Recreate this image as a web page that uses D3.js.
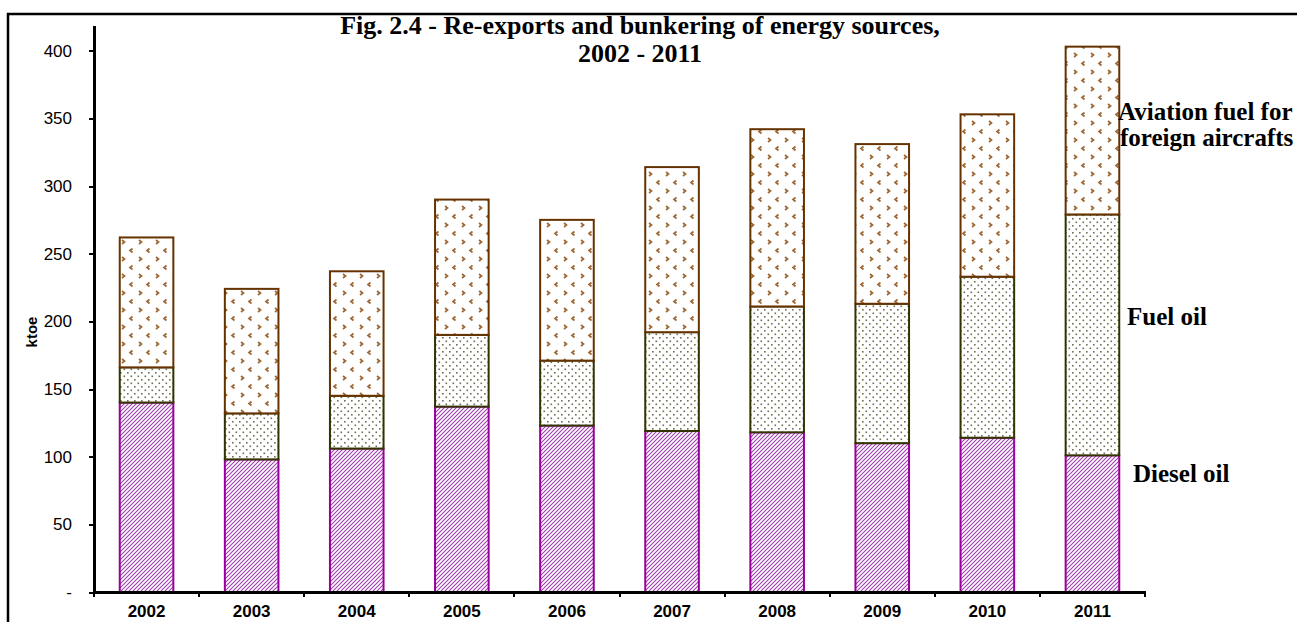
<!DOCTYPE html>
<html lang="en">
<meta charset="utf-8">
<head>
  <style>
    body { margin: 0; background: #fff; }
    .axis text { font: 17px "Liberation Sans", Arial, sans-serif; fill: #000; }
    .axis path, .axis line { stroke: #000; fill: none; shape-rendering: crispEdges; }
    .x.axis text { font-weight: bold; }
    .serif { font-family: "Liberation Serif", "Times New Roman", serif; font-weight: bold; font-size: 25px; }
  </style>
  <title></title>
</head>
<body>
<script src="https://d3js.org/d3.v7.min.js"></script>
<script>
  // data (ktoe)
  const years = ["2002", "2003", "2004", "2005", "2006", "2007", "2008", "2009", "2010", "2011"];
  const dieselOil = [140, 98, 106, 137, 123, 119, 118, 110, 114, 101];
  const fuelOil = [26, 34, 39, 53, 48, 73, 93, 103, 119, 178];
  const aviationFuel = [96, 92, 92, 100, 104, 122, 131, 118, 120, 124];
  const seriesNames = ["Diesel oil", "Fuel oil", "Aviation fuel for", "foreign aircrafts"];
  const yTicks = [0, 50, 100, 150, 200, 250, 300, 350, 400];

  const W = 1297, H = 622;
  const plot = {left: 94, right: 1145, top: 25, bottom: 592};

  const svg = d3.select("body").append("svg")
      .attr("width", W)
      .attr("height", H);

  // fill patterns
  const defs = svg.append("defs");

  const pDiesel = defs.append("pattern")
      .attr("id", "pat-diesel")
      .attr("patternUnits", "userSpaceOnUse")
      .attr("width", 4).attr("height", 4);
  pDiesel.append("rect").attr("width", 4).attr("height", 4).attr("fill", "#fff");
  pDiesel.append("path")
      .attr("d", "M-1,1 l2,-2 M0,4 l4,-4 M3,5 l2,-2")
      .attr("stroke", "#a040b0")
      .attr("stroke-width", 1.1);

  const pFuel = defs.append("pattern")
      .attr("id", "pat-fuel")
      .attr("patternUnits", "userSpaceOnUse")
      .attr("width", 7).attr("height", 7);
  pFuel.append("rect").attr("width", 7).attr("height", 7).attr("fill", "#fff");
  [[1, 1], [4.5, 4.5]].forEach(function (d) {
    pFuel.append("rect")
        .attr("x", d[0]).attr("y", d[1])
        .attr("width", 1.6).attr("height", 1.6)
        .attr("fill", "#6e7050");
  });

  const pAvi = defs.append("pattern")
      .attr("id", "pat-avi")
      .attr("patternUnits", "userSpaceOnUse")
      .attr("width", 17).attr("height", 17);
  pAvi.append("rect").attr("width", 17).attr("height", 17).attr("fill", "#fff");
  pAvi.append("path")
      .attr("d", "M3,2 l2.5,2 l-2.5,2 M13.5,10.5 l-2.5,2 l2.5,2")
      .attr("stroke", "#9c6632")
      .attr("stroke-width", 1.7)
      .attr("fill", "none");

  // outer frame
  svg.append("rect")
      .attr("x", 8).attr("y", 14)
      .attr("width", W + 20).attr("height", H + 20)
      .attr("fill", "none")
      .attr("stroke", "#000")
      .attr("stroke-width", 2.5);

  const x = d3.scaleBand()
      .domain(years)
      .range([plot.left, plot.right])
      .padding(0);

  const y = d3.scaleLinear()
      .domain([0, 419])
      .range([plot.bottom, plot.top]);

  const barW = x.bandwidth() * 0.51;
  const barOff = (x.bandwidth() - barW) / 2;

  const stacked = years.map(function (yr, i) {
    return {year: yr, vals: [dieselOil[i], fuelOil[i], aviationFuel[i]]};
  });
  const stack = d3.stack().keys([0, 1, 2]).value(function (d, k) { return d.vals[k]; });
  const layers = stack(stacked);

  const fills = ["url(#pat-diesel)", "url(#pat-fuel)", "url(#pat-avi)"];
  const strokes = ["#990099", "#333300", "#663300"];

  layers.forEach(function (layer, k) {
    svg.append("g").selectAll("rect")
        .data(layer)
        .enter().append("rect")
        .attr("x", function (d) { return x(d.data.year) + barOff; })
        .attr("width", barW)
        .attr("y", function (d) { return y(d[1]); })
        .attr("height", function (d) { return y(d[0]) - y(d[1]); })
        .attr("fill", fills[k])
        .attr("stroke", strokes[k])
        .attr("stroke-width", 2);
  });

  // y axis
  const yAxis = d3.axisLeft(y)
      .tickValues(yTicks)
      .tickSize(5)
      .tickPadding(17)
      .tickSizeOuter(0)
      .tickFormat(function (d) { return d === 0 ? "-" : d; });
  const gy = svg.append("g")
      .attr("class", "y axis")
      .attr("transform", "translate(" + plot.left + ",0)")
      .call(yAxis);
  gy.select(".domain").attr("stroke-width", 3);
  gy.selectAll(".tick line").attr("stroke-width", 2);

  // x axis: labels centred, ticks on category boundaries
  const xAxis = d3.axisBottom(x).tickSize(0);
  const gx = svg.append("g")
      .attr("class", "x axis")
      .attr("transform", "translate(0," + plot.bottom + ")")
      .call(xAxis);
  gx.select(".domain").attr("stroke-width", 3);
  gx.selectAll(".tick text").attr("dy", 0).attr("y", 25);

  const bounds = years.map(function (d) { return x(d); }).concat([x.range()[1]]);
  gx.selectAll(".bound")
      .data(bounds)
      .enter().append("line")
      .attr("class", "bound")
      .attr("x1", function (d) { return d; })
      .attr("x2", function (d) { return d; })
      .attr("y1", 0).attr("y2", 5)
      .attr("stroke", "#000")
      .attr("stroke-width", 2);

  // y label
  svg.append("text")
      .attr("transform", "translate(37,332) rotate(-90)")
      .attr("text-anchor", "middle")
      .style("font", "bold 15px 'Liberation Sans', Arial, sans-serif")
      .text("ktoe");

  // title
  const title = svg.append("text")
      .attr("class", "serif")
      .attr("text-anchor", "middle")
      .style("font-size", "26px");
  title.append("tspan").attr("x", 640).attr("y", 34)
      .text("Fig. 2.4 - Re-exports and bunkering of energy sources,");
  title.append("tspan").attr("x", 640).attr("y", 62)
      .text("2002 - 2011");

  // series labels on the right
  const avi = svg.append("text").attr("class", "serif");
  avi.append("tspan").attr("x", 1118).attr("y", 120).text(seriesNames[2]);
  avi.append("tspan").attr("x", 1120).attr("y", 146).text(seriesNames[3]);

  svg.append("text").attr("class", "serif")
      .attr("x", 1127).attr("y", 325)
      .text(seriesNames[1]);

  svg.append("text").attr("class", "serif")
      .attr("x", 1133).attr("y", 482)
      .text(seriesNames[0]);
</script>
</body>
</html>
